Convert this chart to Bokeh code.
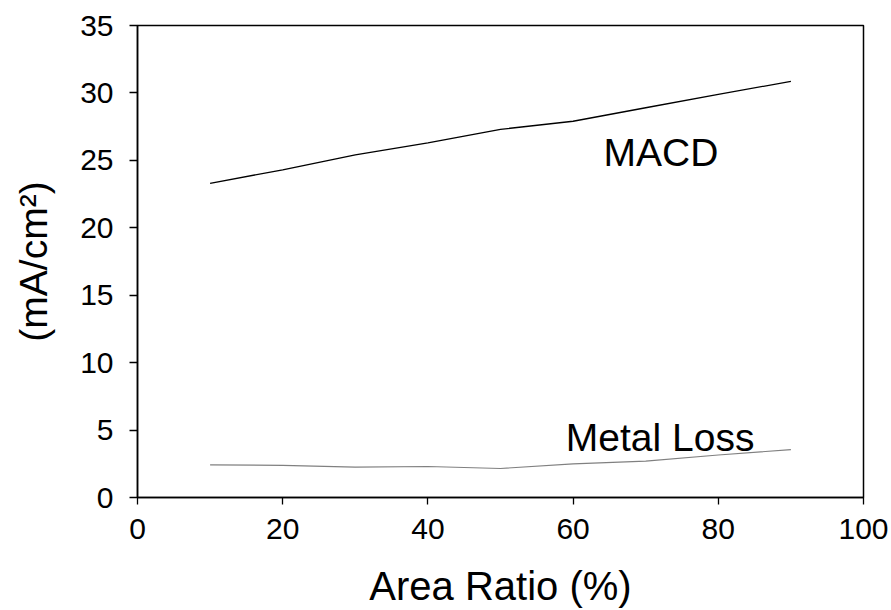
from bokeh.plotting import figure
from bokeh.models import Range1d, Label, FixedTicker
from bokeh.embed import file_html
from bokeh.resources import INLINE

area_ratio = [10, 20, 30, 40, 50, 60, 70, 80, 90]
macd = [23.3, 24.3, 25.4, 26.3, 27.3, 27.9, 28.9, 29.9, 30.85]
metal_loss = [2.42, 2.38, 2.25, 2.3, 2.15, 2.5, 2.7, 3.15, 3.55]
x_ticks = [0, 20, 40, 60, 80, 100]
y_ticks = [0, 5, 10, 15, 20, 25, 30, 35]

FONT = "Liberation Sans"

p = figure(width=891, height=610, output_backend="svg", toolbar_location=None,
           x_range=Range1d(0, 100), y_range=Range1d(0, 35),
           min_border_left=137, min_border_right=28, min_border_top=25, min_border_bottom=113)
p.frame_width = 726
p.frame_height = 472
p.grid.visible = False
p.outline_line_color = "black"
p.outline_line_width = 1.5
p.background_fill_color = "white"
p.border_fill_color = "white"

p.line(area_ratio, macd, line_color="black", line_width=1.3)
p.line(area_ratio, metal_loss, line_color="#808080", line_width=1.2)

for ax in (p.xaxis[0], p.yaxis[0]):
    ax.major_label_text_font = FONT
    ax.major_label_text_font_size = "30px"
    ax.major_label_text_color = "black"
    ax.axis_label_text_font = FONT
    ax.axis_label_text_font_style = "normal"
    ax.axis_label_text_color = "black"
    ax.axis_line_color = "black"
    ax.axis_line_width = 1.5
    ax.major_tick_line_color = "black"
    ax.major_tick_line_width = 1.3
    ax.major_tick_in = 0
    ax.minor_tick_line_color = None

p.xaxis[0].ticker = FixedTicker(ticks=x_ticks)
p.yaxis[0].ticker = FixedTicker(ticks=y_ticks)
p.xaxis[0].major_tick_out = 7
p.yaxis[0].major_tick_out = 8
p.xaxis[0].major_label_standoff = 14
p.yaxis[0].major_label_standoff = 16
p.xaxis[0].axis_label = "Area Ratio (%)"
p.xaxis[0].axis_label_text_font_size = "40px"
p.xaxis[0].axis_label_standoff = 22
p.yaxis[0].axis_label = "(mA/cm²)"
p.yaxis[0].axis_label_text_font_size = "39px"
p.yaxis[0].axis_label_standoff = 22

p.add_layout(Label(x=64.2, y=25.6, text="MACD", text_font=FONT, text_font_size="39px",
                   text_color="black", text_align="left", text_baseline="alphabetic"))
p.add_layout(Label(x=59.0, y=4.47, text="Metal Loss", text_font=FONT, text_font_size="39px",
                   text_color="black", text_align="left", text_baseline="alphabetic"))

open("out.html", "w").write(file_html(p, INLINE))
